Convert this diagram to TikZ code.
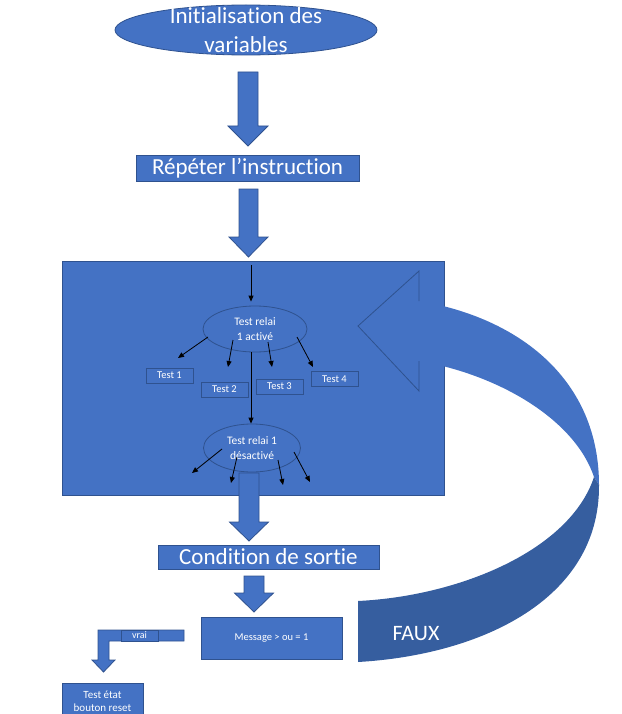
\documentclass[tikz,border=0pt]{standalone}
\usepackage{fontspec}
\setmainfont{Carlito}[Ligatures=NoCommon]
\usetikzlibrary{positioning,shapes.geometric,arrows.meta}

\definecolor{officeblue}{HTML}{4472C4}
\definecolor{officeline}{HTML}{2F528F}
\definecolor{officedark}{HTML}{365E9F}

% block arrow pointing down: x, half shaft, half head, top, head start, tip
\newcommand{\downblock}[6]{%
  \draw[bigarrow] (#1-#2,#4) -- (#1+#2,#4) -- (#1+#2,#5) -- (#1+#3,#5)
    -- (#1,#6) -- (#1-#3,#5) -- (#1-#2,#5) -- cycle;}

\begin{document}
\begin{tikzpicture}[x=1pt, y=-1pt,
    box/.style={draw=officeline, fill=officeblue, text=white, inner sep=0pt, line width=0.8pt},
    oval/.style={box, ellipse},
    bigarrow/.style={draw=officeline, fill=officeblue, line width=0.8pt},
    fine/.style={-{Triangle[length=6pt, width=5pt]}, line width=0.8pt, black},
    bigtext/.style={font=\fontsize{23}{29}\selectfont, text=white, align=center},
    smalltext/.style={font=\fontsize{10.5}{13.5}\selectfont, align=center},
    ovaltext/.style={font=\fontsize{11.5}{14.5}\selectfont, align=center}
]
\useasboundingbox (0,0) rectangle (621,714);

% Top of the flow
\node[oval, minimum width=262, minimum height=50] (init) at (246,30) {};
\node[bigtext] at (init) {Initialisation des\\variables};
\downblock{248}{10}{20}{72}{126}{146}

\node[box, minimum width=223, minimum height=26, font=\fontsize{23}{29}\selectfont] (repeat) at (247.5,168) {Répéter l’instruction};
\downblock{248.5}{9.5}{19.5}{189}{237}{257}

% Loop body
\node[box, minimum width=382, minimum height=234] (loopbox) at (253,378) {};

\node[oval, minimum width=104, minimum height=46, ovaltext] (act) at (255,329) {Test relai\\1 activé};
\node[oval, minimum width=97, minimum height=48, ovaltext] (des) at (252,448) {Test relai 1\\désactivé};

\node[box, minimum width=47, minimum height=15, smalltext] (t1) at (169.5,375.5) {Test 1};
\node[box, minimum width=47, minimum height=15, smalltext] (t2) at (224.5,389.5) {Test 2};
\node[box, minimum width=47, minimum height=15, smalltext] (t3) at (279.5,386.5) {Test 3};
\node[box, minimum width=47, minimum height=15, smalltext] (t4) at (334.5,379) {Test 4};

\coordinate (entry) at (251,265);
\draw[fine, shorten >=4pt] (entry) -- (entry |- act.north);
\draw[fine] (entry |- act.south) -- (entry |- des.north);

\coordinate (o1) at (178,358);
\coordinate (o2) at (228,367);
\coordinate (o3) at (272,367);
\coordinate (o4) at (313,367);
\foreach \dx/\dy/\t in {-47/8/o1, -22/11/o2, 13/13/o3, 42/8/o4}
  \draw[fine] ([shift={(\dx,\dy)}]act.center) -- (\t);

\coordinate (p1) at (192,473);
\coordinate (p2) at (231,483);
\coordinate (p3) at (283,485);
\coordinate (p4) at (310,482);
\foreach \dx/\dy/\t in {-30/1/p1, -15/9/p2, 26/12/p3, 42/4/p4}
  \draw[fine] ([shift={(\dx,\dy)}]des.center) -- (\t);

% Loop back (FAUX)
\fill[officeblue] (358,326) -- (419,271) -- (419,301)
  .. controls (520,318) and (599,380) .. (599,485) -- (594,477)
  .. controls (575,420) and (500,375) .. (419,361) -- (419,391) -- cycle;
\fill[officedark] (594,477) -- (599,485)
  .. controls (600,600) and (480,655) .. (358,662) -- (358,601)
  .. controls (460,596) and (570,550) .. (594,477) -- cycle;
\draw[officeline, line width=0.8pt] (419,301) -- (419,271) -- (358,326) -- (419,391) -- (419,361);
\node[font=\fontsize{22}{26}\selectfont, text=white] (faux) at (416,634) {FAUX};

% Exit
\downblock{249}{10}{19.5}{473}{522}{541}
\node[box, minimum width=221, minimum height=24, font=\fontsize{23}{29}\selectfont] (cond) at (268.5,557) {Condition de sortie};
\downblock{254}{10}{19.5}{576}{593}{612}
\node[box, minimum width=141, minimum height=42, smalltext] (msg) at (271.5,638) {Message > ou = 1};

% Branch vrai
\draw[bigarrow] (184,630) -- (98,630) -- (98,660) -- (92,660) -- (103.5,672)
  -- (115,660) -- (109,660) -- (109,641) -- (184,641) -- cycle;
\node[box, minimum width=37, minimum height=11, font=\fontsize{10}{11}\selectfont] (vrai) at (139.5,635.5) {vrai};
\node[box, minimum width=81, minimum height=36, ovaltext, font=\fontsize{11}{13}\selectfont] (reset) at (102.5,701.5) {Test état\\bouton reset};

\end{tikzpicture}
\end{document}
